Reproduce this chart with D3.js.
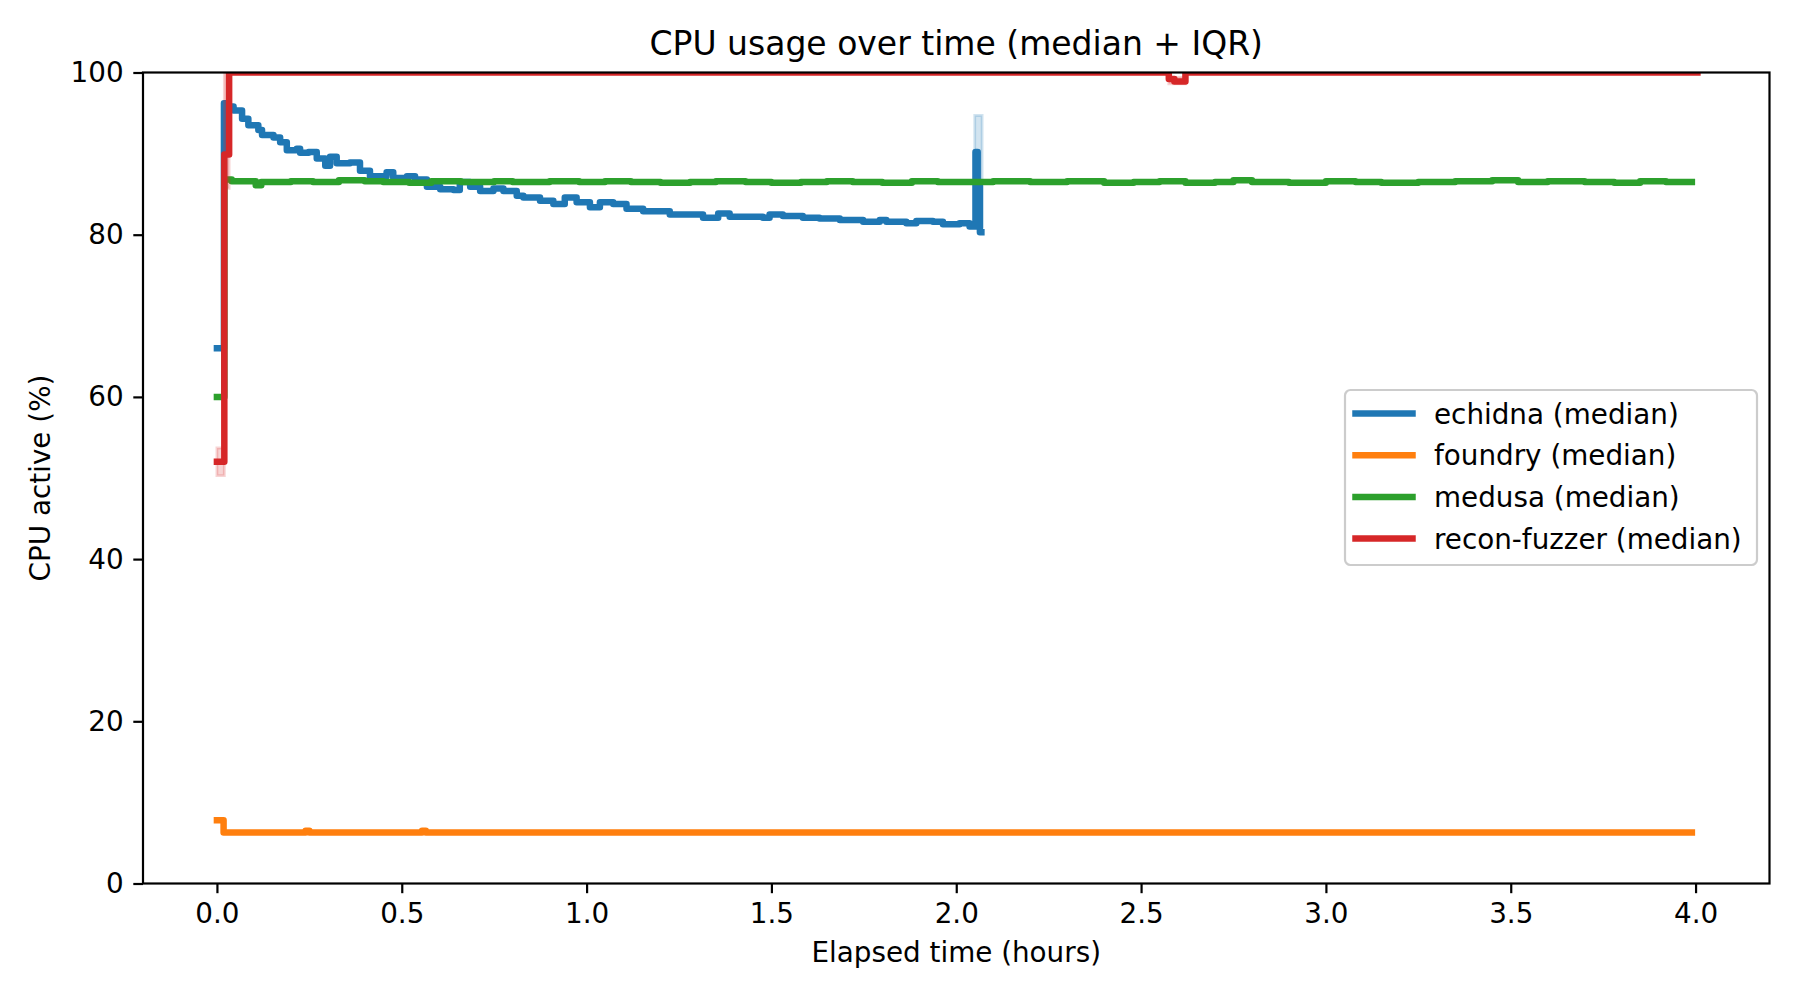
<!DOCTYPE html>
<html>
<head>
<meta charset="utf-8">
<script src="https://cdn.jsdelivr.net/npm/d3@7"></script>
<style>
  body { margin: 0; background: #fff; }
  svg { display: block; font-family: 'DejaVu Sans', sans-serif; }
</style>
</head>
<body>
<svg id="chart" width="1800" height="1000"></svg>
<script>
'use strict';

// Median series (hours, % active). Drawn as steps-post.
const echidnaT = [0, 0.019, 0.03, 0.045, 0.068, 0.085, 0.112, 0.122, 0.153, 0.171, 0.189, 0.216,
  0.225, 0.248, 0.27, 0.293, 0.306, 0.324, 0.36, 0.387, 0.414, 0.442, 0.459, 0.477, 0.514, 0.536,
  0.568, 0.604, 0.64, 0.657, 0.685, 0.712, 0.748, 0.775, 0.811, 0.829, 0.874, 0.91, 0.941, 0.973,
  1.009, 1.036, 1.072, 1.108, 1.153, 1.189, 1.225, 1.279, 1.315, 1.356, 1.387, 1.477, 1.495, 1.531,
  1.585, 1.63, 1.685, 1.748, 1.793, 1.811, 1.865, 1.892, 1.937, 1.964, 2.009, 2.036, 2.052, 2.058,
  2.064, 2.068];
const echidnaV = [66, 96.2, 95.8, 95.3, 94.3, 93.5, 92.9, 92.3, 92.0, 91.4, 90.4, 90.6,
  90.1, 90.2, 89.4, 88.5, 89.6, 88.8, 88.9, 87.9, 87.2, 87.2, 87.7, 87.0, 87.2, 86.8,
  85.9, 85.6, 85.5, 86.5, 85.9, 85.4, 85.7, 85.4, 84.8, 84.6, 84.2, 83.8, 84.6, 84.0,
  83.4, 84.0, 83.8, 83.2, 82.9, 82.9, 82.5, 82.5, 82.1, 82.6, 82.2, 82.1, 82.5, 82.3,
  82.1, 82.0, 81.8, 81.6, 81.8, 81.6, 81.4, 81.7, 81.6, 81.3, 81.4, 81.0, 90.2, 86.0,
  80.3, 80.3];

const foundryT = [0, 0.018, 0.24, 0.25, 0.555, 0.565, 3.99];
const foundryV = [7.8, 6.3, 6.5, 6.3, 6.5, 6.3, 6.3];

const medusaT = [0, 0.02, 0.04, 0.075, 0.105, 0.12, 0.16, 0.2, 0.26, 0.33, 0.4, 0.45, 0.52, 0.58,
  0.66, 0.75, 0.8, 0.9, 0.98, 1.05, 1.12, 1.2, 1.28, 1.35, 1.43, 1.5, 1.58, 1.65, 1.72, 1.8, 1.88,
  1.95, 2.02, 2.1, 2.2, 2.3, 2.4, 2.48, 2.55, 2.62, 2.7, 2.75, 2.8, 2.9, 3.0, 3.08, 3.15, 3.25,
  3.35, 3.45, 3.52, 3.6, 3.7, 3.78, 3.85, 3.92, 3.99];
const medusaV = [60, 86.8, 86.6, 86.6, 86.1, 86.5, 86.5, 86.6, 86.5, 86.7, 86.6, 86.5, 86.4, 86.6,
  86.5, 86.6, 86.5, 86.6, 86.5, 86.6, 86.5, 86.4, 86.5, 86.6, 86.5, 86.4, 86.5, 86.6, 86.5, 86.4,
  86.6, 86.5, 86.5, 86.6, 86.5, 86.6, 86.4, 86.5, 86.6, 86.4, 86.5, 86.7, 86.5, 86.4, 86.6, 86.5,
  86.4, 86.5, 86.6, 86.7, 86.5, 86.6, 86.5, 86.4, 86.6, 86.5, 86.5];

const reconT = [0, 0.02, 0.033, 2.575, 2.59, 2.62, 4.005];
const reconV = [52, 89.9, 100, 99.2, 98.9, 100, 100];

// IQR bands, only where they show past the median line.
const echidnaIqrT = [2.05, 2.07];
const echidnaIqrLo = [81, 81];
const echidnaIqrHi = [94.7, 94.7];

const reconIqrT = [0, 0.02, 0.033, 2.575, 2.62];
const reconIqrLo = [50.3, 85.7, 100, 98.6, 100];
const reconIqrHi = [53.7, 100, 100, 99.4, 100];

const xTicks = [0, 0.5, 1, 1.5, 2, 2.5, 3, 3.5, 4];
const yTicks = [0, 20, 40, 60, 80, 100];

const series = [
  {name: 'echidna (median)', color: '#1f77b4', t: echidnaT, v: echidnaV,
    iqr: {t: echidnaIqrT, lo: echidnaIqrLo, hi: echidnaIqrHi}},
  {name: 'foundry (median)', color: '#ff7f0e', t: foundryT, v: foundryV},
  {name: 'medusa (median)', color: '#2ca02c', t: medusaT, v: medusaV},
  {name: 'recon-fuzzer (median)', color: '#d62728', t: reconT, v: reconV,
    iqr: {t: reconIqrT, lo: reconIqrLo, hi: reconIqrHi}}
];

const margin = {top: 72.5, right: 30.5, bottom: 116.5, left: 143};
const width = 1800;
const height = 1000;
const plotW = width - margin.left - margin.right;
const plotH = height - margin.top - margin.bottom;
const fontSize = 27.8;
const lineW = 6.5;

const svg = d3.select('#chart');

const x = d3.scaleLinear().domain([-0.2, 4.2]).range([0, plotW]);
const y = d3.scaleLinear().domain([0, 100]).range([plotH, 0]);

svg.append('defs').append('clipPath')
  .attr('id', 'plot-clip')
  .append('rect')
  .attr('width', plotW)
  .attr('height', plotH);

const g = svg.append('g')
  .attr('transform', `translate(${margin.left},${margin.top})`);

const marks = g.append('g').attr('clip-path', 'url(#plot-clip)');

const line = d3.line()
  .x(d => x(d[0]))
  .y(d => y(d[1]))
  .curve(d3.curveStepAfter);

const band = d3.area()
  .x(d => x(d[0]))
  .y0(d => y(d[1]))
  .y1(d => y(d[2]))
  .curve(d3.curveStepAfter);

series.forEach(s => {
  if (s.iqr) {
    const rows = s.iqr.t.map((t, i) => [t, s.iqr.lo[i], s.iqr.hi[i]]);
    marks.append('path')
      .attr('d', band(rows))
      .attr('fill', s.color)
      .attr('fill-opacity', 0.2)
      .attr('stroke', s.color)
      .attr('stroke-opacity', 0.2)
      .attr('stroke-width', 2.8);
  }
  marks.append('path')
    .attr('d', line(s.t.map((t, i) => [t, s.v[i]])))
    .attr('fill', 'none')
    .attr('stroke', s.color)
    .attr('stroke-width', lineW)
    .attr('stroke-linejoin', 'round')
    .attr('stroke-linecap', 'square');
});

// Axes
const xAxis = g.append('g')
  .attr('transform', `translate(0,${plotH})`)
  .call(d3.axisBottom(x).tickValues(xTicks).tickFormat(d3.format('.1f'))
    .tickSize(9.7).tickPadding(9.7));
const yAxis = g.append('g')
  .call(d3.axisLeft(y).tickValues(yTicks).tickFormat(d3.format('d'))
    .tickSize(9.7).tickPadding(9.7));

[xAxis, yAxis].forEach(a => {
  a.select('.domain').remove();
  a.selectAll('.tick line').attr('stroke', '#000').attr('stroke-width', 2.2);
  a.selectAll('.tick text')
    .attr('fill', '#000')
    .style('font-family', "'DejaVu Sans', sans-serif")
    .style('font-size', `${fontSize}px`);
});

g.append('rect')
  .attr('width', plotW)
  .attr('height', plotH)
  .attr('fill', 'none')
  .attr('stroke', '#000')
  .attr('stroke-width', 2.2);

// Titles
svg.append('text')
  .attr('x', margin.left + plotW / 2)
  .attr('y', 55.3)
  .attr('text-anchor', 'middle')
  .style('font-size', '33px')
  .text('CPU usage over time (median + IQR)');

svg.append('text')
  .attr('x', margin.left + plotW / 2)
  .attr('y', 962)
  .attr('text-anchor', 'middle')
  .style('font-size', `${fontSize}px`)
  .text('Elapsed time (hours)');

svg.append('text')
  .attr('transform', `translate(50,${margin.top + plotH / 2}) rotate(-90)`)
  .attr('text-anchor', 'middle')
  .style('font-size', `${fontSize}px`)
  .text('CPU active (%)');

// Legend
const legend = svg.append('g').attr('transform', 'translate(1345,390)');
legend.append('rect')
  .attr('width', 412)
  .attr('height', 175)
  .attr('rx', 5.5)
  .attr('fill', '#fff')
  .attr('fill-opacity', 0.8)
  .attr('stroke', '#cccccc')
  .attr('stroke-width', 2.2);

const items = legend.selectAll('g.item')
  .data(series)
  .join('g')
  .attr('class', 'item')
  .attr('transform', (d, i) => `translate(0,${23.5 + i * 41.7})`);

items.append('line')
  .attr('x1', 10.5)
  .attr('x2', 67.5)
  .attr('stroke', d => d.color)
  .attr('stroke-width', lineW)
  .attr('stroke-linecap', 'square');

items.append('text')
  .attr('x', 89)
  .attr('dy', '0.36em')
  .style('font-size', `${fontSize}px`)
  .text(d => d.name);
</script>
</body>
</html>
